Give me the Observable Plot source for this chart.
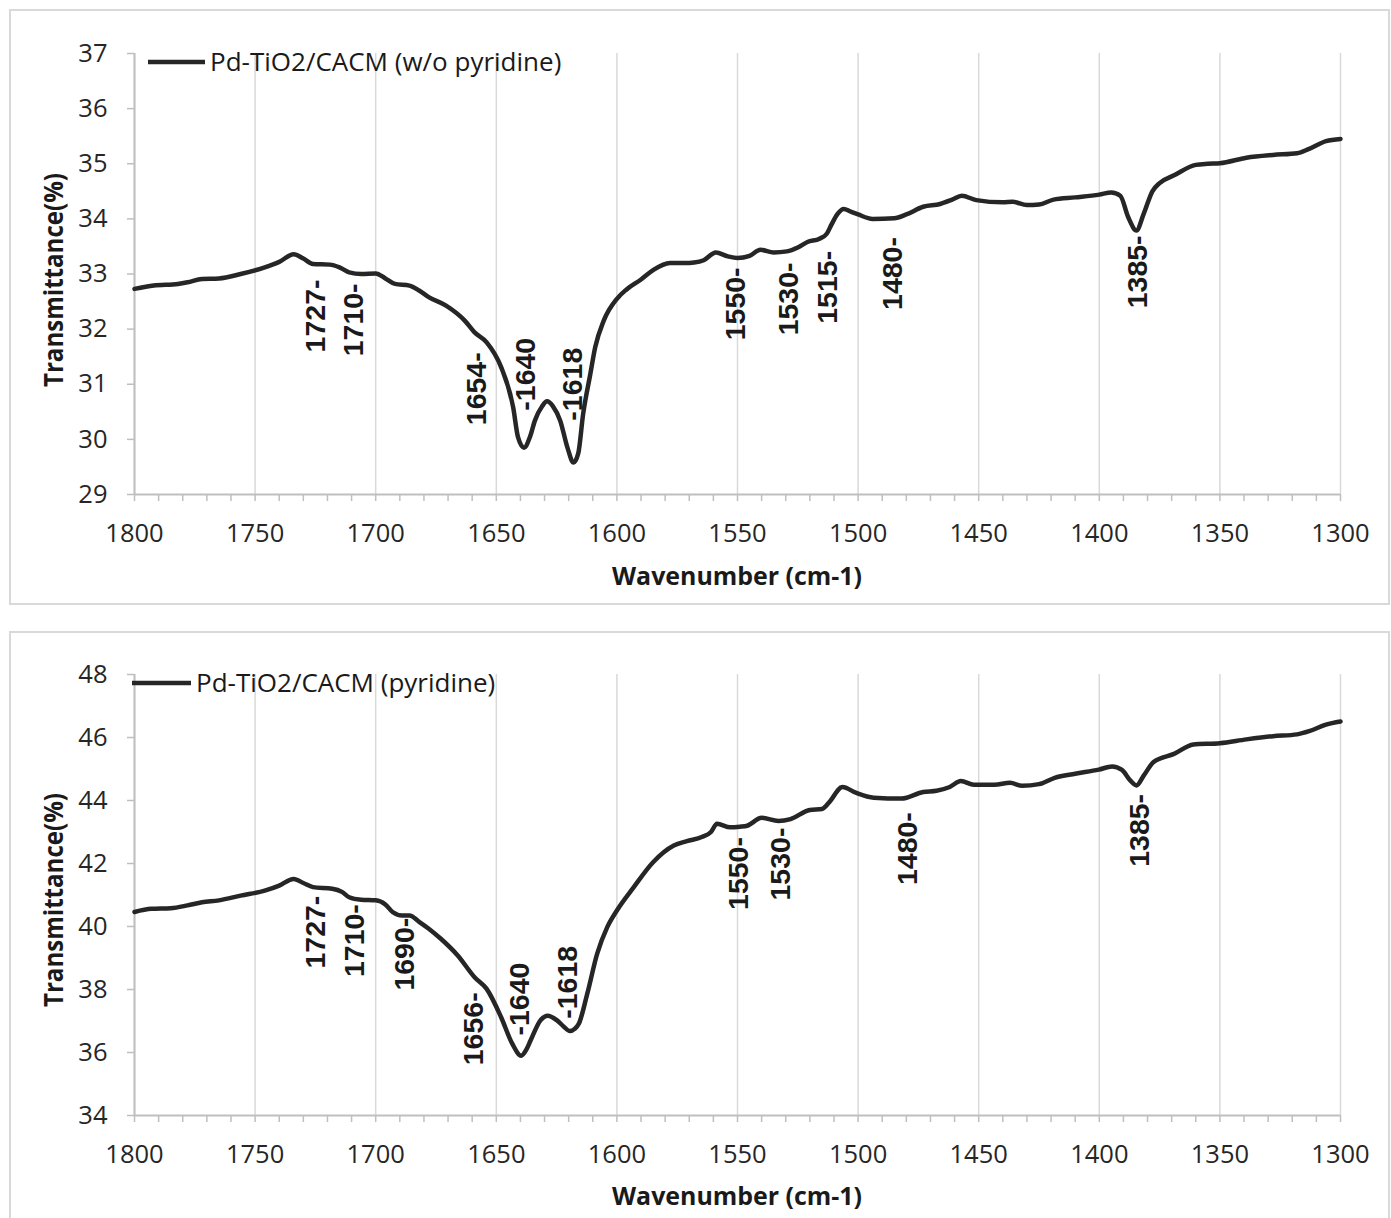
<!DOCTYPE html>
<html><head><meta charset="utf-8">
<script src="https://cdn.jsdelivr.net/npm/d3@7"></script>
<script src="https://cdn.jsdelivr.net/npm/@observablehq/plot@0.6"></script>
<style>
html,body{margin:0;padding:0;background:#fff;}
body{width:1391px;height:1218px;overflow:hidden;position:relative;}
.panel{position:absolute;border:2px solid #d9d9d9;box-sizing:border-box;background:#fff;}
.chart{position:absolute;left:0;}
</style></head><body>
<div class="panel" style="left:9px;top:9px;width:1381px;height:596px;"></div>
<div class="panel" style="left:9px;top:631px;width:1381px;height:600px;"></div>
<div class="chart" id="top" style="top:0px;"></div>
<div class="chart" id="bottom" style="top:610px;"></div>
<script>
// ---- Data ----
const xMajorTicks = [1800, 1750, 1700, 1650, 1600, 1550, 1500, 1450, 1400, 1350, 1300];
const xMinorTicks = [1800,1790,1780,1770,1760,1750,1740,1730,1720,1710,1700,1690,1680,1670,1660,1650,1640,1630,1620,1610,1600,1590,1580,1570,1560,1550,1540,1530,1520,1510,1500,1490,1480,1470,1460,1450,1440,1430,1420,1410,1400,1390,1380,1370,1360,1350,1340,1330,1320,1310,1300];
const yTicksTop = [29, 30, 31, 32, 33, 34, 35, 36, 37];
const yTicksBottom = [34, 36, 38, 40, 42, 44, 46, 48];

const seriesTopName = "Pd-TiO2/CACM (w/o pyridine)";
const seriesBottomName = "Pd-TiO2/CACM (pyridine)";
const xTitle = "Wavenumber (cm-1)";
const yTitle = "Transmittance(%)";

const wnTop = [1800,1792,1782,1778,1772,1765,1756,1746,1740,1734,1730,1726,1719,1715,1711,1706,1700,1696,1692,1686,1682,1678,1671,1663,1659,1654,1648,1643,1641,1638.5,1636,1634,1631,1629,1626.5,1623.5,1620.5,1618,1616,1614,1611,1609,1605.5,1600,1596,1590,1585,1578,1572,1568,1564,1559,1554,1550,1545,1540.5,1535,1529.5,1525,1521,1516,1513,1511,1508.5,1506,1503,1500,1494,1485,1480,1473,1466,1461,1457,1451,1440,1436,1430,1425,1419,1410,1400,1395,1391.3,1388,1384.6,1381.6,1378,1375,1369,1360,1355,1350,1339,1328,1318,1313,1306,1300];
const trTop = [32.73,32.79,32.82,32.85,32.91,32.92,33.00,33.12,33.22,33.36,33.28,33.18,33.17,33.12,33.03,33.00,33.01,32.92,32.82,32.79,32.70,32.58,32.43,32.15,31.94,31.76,31.31,30.58,30.04,29.85,30.05,30.34,30.60,30.69,30.60,30.34,29.85,29.58,29.75,30.46,31.19,31.67,32.15,32.55,32.72,32.90,33.07,33.20,33.20,33.21,33.25,33.39,33.32,33.29,33.33,33.44,33.39,33.41,33.48,33.58,33.64,33.73,33.90,34.09,34.18,34.13,34.08,34.00,34.01,34.08,34.22,34.27,34.35,34.42,34.34,34.30,34.31,34.25,34.26,34.35,34.39,34.44,34.48,34.42,34.03,33.79,34.09,34.50,34.65,34.79,34.98,35.00,35.01,35.11,35.16,35.19,35.27,35.41,35.45];

const wnBottom = [1800,1793,1785,1778,1772,1765,1756,1746,1740,1734,1730,1726,1718,1714,1711,1706,1700,1696,1693,1689,1686,1682,1678,1673,1666,1659,1654,1648,1643.4,1639.7,1637.5,1635.8,1631.7,1628.7,1624.8,1622,1619.5,1617.5,1615.8,1612.3,1608.2,1604,1600,1593,1585,1576.4,1571,1564.8,1561,1558.5,1553,1549,1546,1540,1533,1528,1520,1515,1512,1506.5,1501,1493.5,1482,1473,1467.5,1462,1457.4,1452,1443.5,1437,1432,1425,1418.5,1410,1400.2,1394.7,1390.6,1387.1,1384.6,1381.6,1377.5,1369,1361,1350,1339,1328,1318,1313,1306,1300];
const trBottom = [40.46,40.56,40.58,40.67,40.77,40.83,40.98,41.14,41.30,41.51,41.38,41.25,41.20,41.10,40.93,40.85,40.83,40.70,40.46,40.35,40.35,40.15,39.93,39.61,39.08,38.39,38.02,37.12,36.28,35.90,36.10,36.38,37.02,37.17,37.02,36.82,36.68,36.75,36.91,37.86,39.13,39.98,40.51,41.25,42.04,42.57,42.71,42.84,43.00,43.26,43.15,43.17,43.20,43.45,43.35,43.41,43.70,43.73,43.94,44.43,44.25,44.09,44.06,44.27,44.31,44.43,44.62,44.50,44.50,44.56,44.47,44.52,44.72,44.85,44.98,45.08,44.97,44.63,44.48,44.79,45.22,45.48,45.78,45.82,45.94,46.04,46.10,46.20,46.41,46.51];

// Peak annotations: label, wavenumber, transmittance at the label's curve-side end, side
const peakTopLabel = ["1727-","1710-","1654-","-1640","-1618","1550-","1530-","1515-","1480-","1385-"];
const peakTopWn    = [1725, 1708.9, 1658.1, 1637.6, 1618.2, 1550.5, 1528.7, 1512.5, 1485.5, 1384];
const peakTopT     = [32.90, 32.83, 31.58, 30.52, 30.34, 33.12, 33.21, 33.42, 33.67, 33.70];
const peakTopSide  = ["below","below","below","above","above","below","below","below","below","below"];

const peakBottomLabel = ["1727-","1710-","1690-","1656-","-1640","-1618","1550-","1530-","1480-","1385-"];
const peakBottomWn    = [1725, 1708.8, 1688, 1659.3, 1640.3, 1620.3, 1549.6, 1532, 1479.5, 1383.3];
const peakBottomT     = [40.98, 40.71, 40.28, 37.91, 36.54, 37.07, 42.84, 43.14, 43.63, 44.21];
const peakBottomSide  = ["below","below","below","below","above","above","below","below","below","below"];

// ---- Drawing ----
const LINE = "#262626";
const AXIS = "#bfbfbf";
const GRID = "#d9d9d9";

function panel(opt) {
  const data = opt.wn.map((w, i) => ({wn: w, t: opt.tr[i]}));
  const peaks = opt.peakLabel.map((s, i) => ({label: s, wn: opt.peakWn[i], t: opt.peakT[i], side: opt.peakSide[i]}));
  const labelFont = {fontFamily: "'Liberation Sans', Arial, sans-serif", fontWeight: "bold", fontSize: 28.5, fill: "#1a1a1a", rotate: -90, lineAnchor: "middle"};
  const chart = Plot.plot({
    width: 1391, height: opt.height,
    marginLeft: 134, marginRight: 51, marginTop: opt.mt, marginBottom: opt.mb,
    style: {background: "transparent", fontFamily: "'Open Sans', sans-serif", fontSize: "25.5px", color: "#262626", overflow: "visible"},
    x: {domain: [1800, 1300]},
    y: {domain: opt.yDomain},
    marks: [
      Plot.gridX(xMajorTicks, {stroke: GRID, strokeOpacity: 1, strokeWidth: 1.5}),
      Plot.axisX(xMinorTicks, {tickSize: 7, tickFormat: () => "", stroke: AXIS, strokeWidth: 1.5, strokeOpacity: 1, label: null}),
      Plot.axisX(xMajorTicks, {tickSize: 0, tickPadding: 29, tickFormat: d => String(d), fill: "#262626", label: null}),
      Plot.axisY(opt.yTicks, {tickSize: 7, tickPadding: 20, stroke: AXIS, strokeWidth: 1.5, strokeOpacity: 1, fill: "#262626", tickFormat: d => String(d), label: null}),
      Plot.ruleX([1800], {stroke: AXIS, strokeWidth: 2}),
      Plot.ruleY([opt.yDomain[0]], {stroke: AXIS, strokeWidth: 2}),
      Plot.line(data, {x: "wn", y: "t", stroke: LINE, strokeWidth: 4.5, curve: "monotone-x", strokeLinejoin: "round", strokeLinecap: "round"}),
      Plot.text(peaks.filter(d => d.side === "below"), {x: "wn", y: "t", text: "label", textAnchor: "end", ...labelFont}),
      Plot.text(peaks.filter(d => d.side === "above"), {x: "wn", y: "t", text: "label", textAnchor: "start", ...labelFont})
    ]
  });
  const svg = d3.select(chart);
  // legend
  svg.append("line").attr("x1", opt.legend.x1).attr("x2", opt.legend.x2)
    .attr("y1", opt.legend.y).attr("y2", opt.legend.y)
    .attr("stroke", LINE).attr("stroke-width", 4.5);
  svg.append("text").attr("x", opt.legend.tx).attr("y", opt.legend.ty)
    .attr("text-anchor", "start")
    .attr("font-family", "'Open Sans', sans-serif").attr("font-size", 26).attr("fill", "#1a1a1a")
    .text(opt.name);
  // x title
  svg.append("text").attr("x", 737).attr("y", opt.xTitleY)
    .attr("text-anchor", "middle").attr("font-family", "'Open Sans', sans-serif").attr("font-weight", "bold")
    .attr("font-size", 25).attr("fill", "#1a1a1a")
    .attr("textLength", 250).attr("lengthAdjust", "spacingAndGlyphs")
    .text(xTitle);
  // y title
  svg.append("text").attr("transform", `translate(63,${opt.yTitleY}) rotate(-90)`)
    .attr("text-anchor", "middle").attr("font-family", "'Open Sans', sans-serif").attr("font-weight", "bold")
    .attr("font-size", 27).attr("fill", "#1a1a1a")
    .attr("textLength", 214).attr("lengthAdjust", "spacingAndGlyphs")
    .text(yTitle);
  return chart;
}

document.getElementById("top").appendChild(panel({
  wn: wnTop, tr: trTop, yDomain: [29, 37], yTicks: yTicksTop,
  peakLabel: peakTopLabel, peakWn: peakTopWn, peakT: peakTopT, peakSide: peakTopSide,
  height: 605, mt: 53, mb: 111, name: seriesTopName,
  legend: {x1: 148, x2: 205, y: 62, tx: 210, ty: 71},
  xTitleY: 585, yTitleY: 280
}));
document.getElementById("bottom").appendChild(panel({
  wn: wnBottom, tr: trBottom, yDomain: [34, 48], yTicks: yTicksBottom,
  peakLabel: peakBottomLabel, peakWn: peakBottomWn, peakT: peakBottomT, peakSide: peakBottomSide,
  height: 608, mt: 64, mb: 103, name: seriesBottomName,
  legend: {x1: 132, x2: 191, y: 73, tx: 196, ty: 82},
  xTitleY: 595, yTitleY: 290
}));
</script>
</body></html>
